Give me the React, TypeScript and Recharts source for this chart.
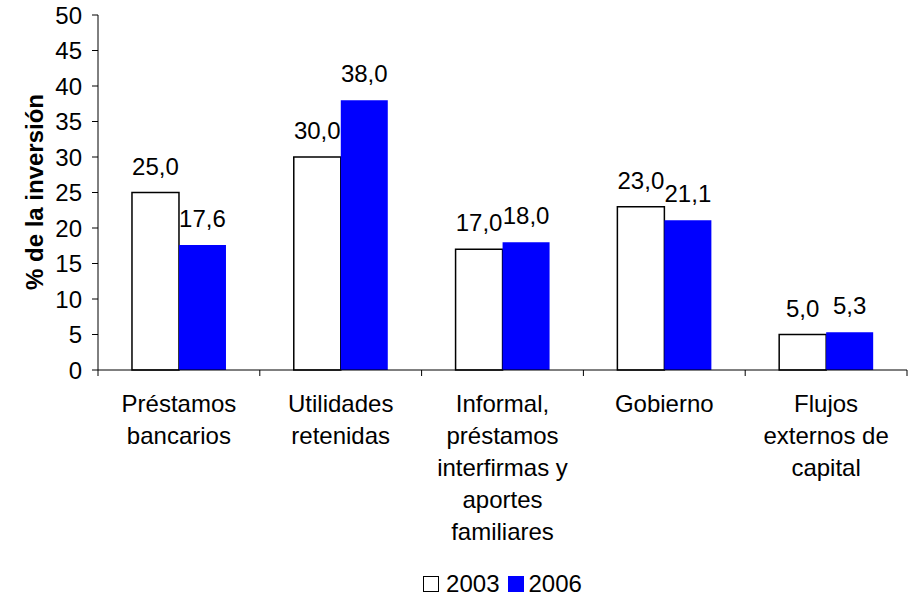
import { BarChart, Bar, XAxis, YAxis, LabelList, Legend } from "recharts";

// Fuentes de financiamiento de la inversión (% del total)
const categories = [
  "Préstamos\nbancarios",
  "Utilidades\nretenidas",
  "Informal,\npréstamos\ninterfirmas y\naportes\nfamiliares",
  "Gobierno",
  "Flujos\nexternos de\ncapital",
];
const values2003 = [25.0, 30.0, 17.0, 23.0, 5.0];
const values2006 = [17.6, 38.0, 18.0, 21.1, 5.3];
const yTicks = [0, 5, 10, 15, 20, 25, 30, 35, 40, 45, 50];
const seriesNames = ["2003", "2006"];

const data = categories.map((name, i) => ({ name, y2003: values2003[i], y2006: values2006[i] }));

const W = 909;
const H = 600;
const MARGIN = { top: 15, right: 2, left: 8, bottom: 0 };
const Y_AXIS_W = 90;
const FONT = "'Liberation Sans', Arial, sans-serif";
const FS = 24;
const BLUE = "#0000FF";

const fmt = (v: any) => (typeof v === "number" ? v.toFixed(1).replace(".", ",") : String(v ?? ""));

function CategoryTick(props: any) {
  const { x, y, payload, index } = props;
  const lines = String(payload.value).split("\n");
  const plotW = W - MARGIN.left - MARGIN.right - Y_AXIS_W;
  const half = plotW / categories.length / 2;
  const i = index ?? payload.index ?? 0;
  return (
    <g>
      <line x1={x - half} x2={x - half} y1={y - 8} y2={y - 2} stroke="#000" />
      {i === categories.length - 1 && (
        <line x1={x + half} x2={x + half} y1={y - 8} y2={y - 2} stroke="#000" />
      )}
      <text x={x} y={y + 34} textAnchor="middle" fontSize={FS} fill="#000" fontFamily={FONT}>
        {lines.map((l, k) => (
          <tspan key={k} x={x} dy={k === 0 ? 0 : 32}>{l}</tspan>
        ))}
      </text>
    </g>
  );
}

function AxisTitle() {
  return (
    <text
      x={34} y={192} transform="rotate(-90 34 192)"
      textAnchor="middle" dominantBaseline="central"
      fontSize={FS} fontWeight="bold" fill="#000" fontFamily={FONT}
    >
      % de la inversión
    </text>
  );
}

function LegendBox() {
  return (
    <div style={{ height: 30, display: "flex", justifyContent: "center", alignItems: "center", fontSize: FS, fontFamily: FONT, color: "#000", lineHeight: 1 }}>
      <span style={{ width: 14, height: 14, border: "1.5px solid #000", background: "#fff", display: "inline-block", marginRight: 7 }} />
      <span>{seriesNames[0]}</span>
      <span style={{ width: 16, height: 16, background: BLUE, display: "inline-block", marginLeft: 8, marginRight: 5 }} />
      <span>{seriesNames[1]}</span>
    </div>
  );
}

export default function App() {
  return (
    <div style={{ position: "absolute", left: 0, top: 0, width: W, height: H, background: "#fff" }}>
      <BarChart
        width={W} height={H} data={data} margin={MARGIN}
        barCategoryGap="21%" barGap={0}
        style={{ fontFamily: FONT }}
      >
        <XAxis
          dataKey="name" height={200} interval={0}
          axisLine={{ stroke: "#000" }} tickLine={false}
          tick={<CategoryTick />}
        />
        <XAxis xAxisId="top" dataKey="name" orientation="top" height={0} tick={false} tickLine={false} axisLine={{ stroke: "#808080" }} />
        <YAxis
          width={Y_AXIS_W} domain={[0, 50]} ticks={yTicks} interval={0}
          axisLine={{ stroke: "#000" }} tickLine={{ stroke: "#000" }} tickSize={6} tickMargin={10}
          tick={{ fontSize: FS, fill: "#000", fontFamily: FONT }}
          label={<AxisTitle />}
        />
        <YAxis yAxisId="right" orientation="right" width={0} domain={[0, 50]} tick={false} tickLine={false} axisLine={{ stroke: "#808080" }} />
        <Legend
          verticalAlign="bottom" content={<LegendBox />}
          wrapperStyle={{ top: 569, left: 98, width: 809, height: 30, bottom: "auto" }}
        />
        <Bar dataKey="y2003" name={seriesNames[0]} fill="#fff" stroke="#000" strokeWidth={1.5} isAnimationActive={false}>
          <LabelList dataKey="y2003" position="top" offset={18} formatter={fmt} fontSize={FS} fill="#000" fontFamily={FONT} />
        </Bar>
        <Bar dataKey="y2006" name={seriesNames[1]} fill={BLUE} isAnimationActive={false}>
          <LabelList dataKey="y2006" position="top" offset={18} formatter={fmt} fontSize={FS} fill="#000" fontFamily={FONT} />
        </Bar>
      </BarChart>
    </div>
  );
}
